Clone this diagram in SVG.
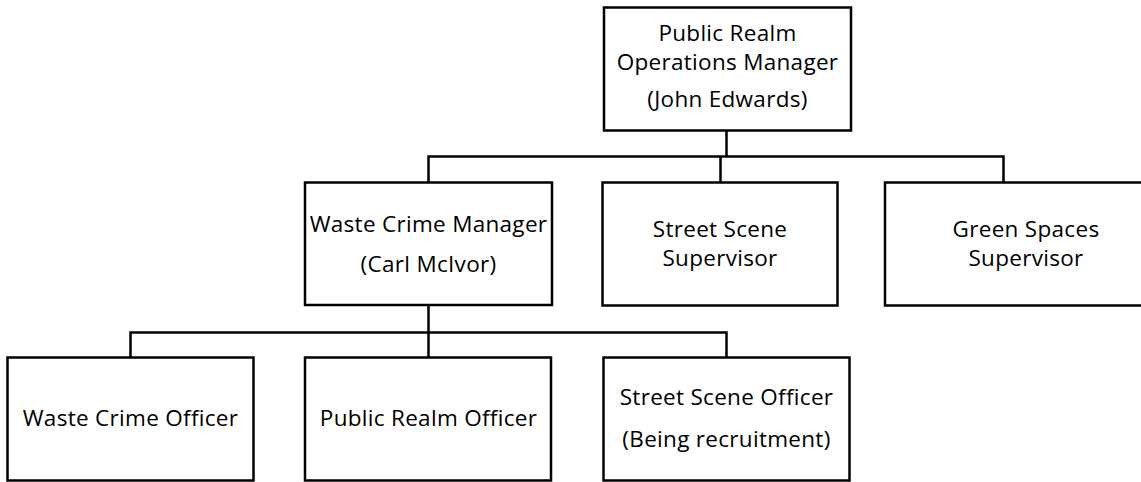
<svg xmlns="http://www.w3.org/2000/svg" width="1141" height="482" viewBox="0 0 1141 482">
<style>
.box{fill:#fff;stroke:#000;stroke-width:2.5}
.ln{fill:none;stroke:#000;stroke-width:2.5}
text{font-family:"Open Sans","Liberation Sans",sans-serif;font-size:22.5px;fill:#000;text-anchor:middle;letter-spacing:0.3px}
</style>
<g id="connectors">
<path class="ln" d="M726.5,130.5V156.5M428.5,182.5V156.5H1003.5V182.5M720.5,156.5V182.5"/>
<path class="ln" d="M428.5,305V332.5M130.5,357.5V332.5H726.5V357.5M428.5,332.5V357.5"/>
</g>
<g id="n-manager"><rect class="box" x="604" y="7.5" width="247" height="123"/>
<text x="727.5" y="41">Public Realm</text><text x="727.5" y="70">Operations Manager</text><text x="727.5" y="107">(John Edwards)</text></g>
<g id="n-wcm"><rect class="box" x="305" y="182.5" width="247" height="122.5"/>
<text x="428.5" y="232">Waste Crime Manager</text><text x="428.5" y="272">(Carl McIvor)</text></g>
<g id="n-sss"><rect class="box" x="602.5" y="182.5" width="235" height="123"/>
<text x="720" y="237">Street Scene</text><text x="720" y="266">Supervisor</text></g>
<g id="n-gss"><rect class="box" x="885" y="182.5" width="282" height="123"/>
<text x="1026" y="237">Green Spaces</text><text x="1026" y="266">Supervisor</text></g>
<g id="n-wco"><rect class="box" x="7.5" y="357.5" width="246" height="123"/>
<text x="130.5" y="426">Waste Crime Officer</text></g>
<g id="n-pro"><rect class="box" x="305" y="357.5" width="246" height="123"/>
<text x="428.5" y="426">Public Realm Officer</text></g>
<g id="n-sso"><rect class="box" x="603.5" y="357.5" width="246" height="123"/>
<text x="726.5" y="405">Street Scene Officer</text><text x="726.5" y="447">(Being recruitment)</text></g>
</svg>
